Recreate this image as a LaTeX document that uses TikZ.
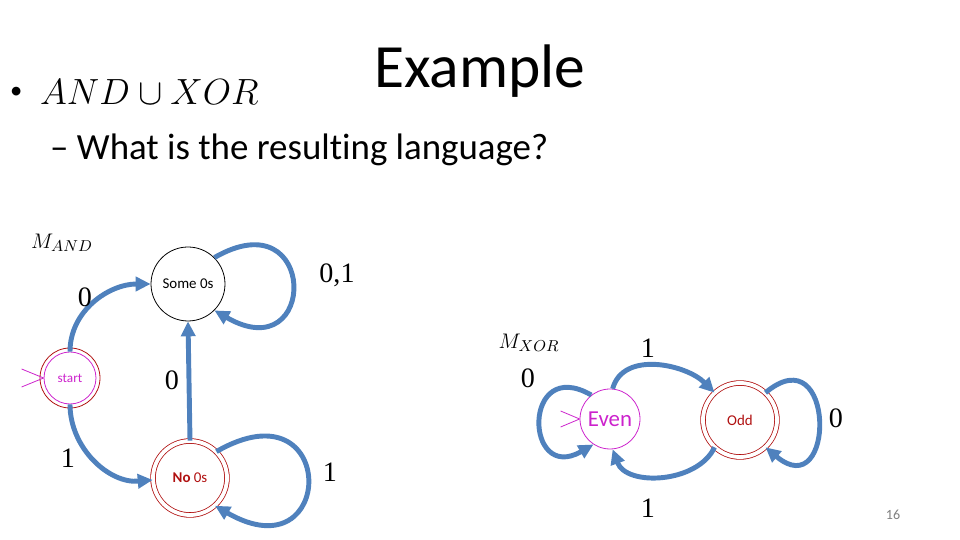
\documentclass[tikz,border=0pt]{standalone}
\usepackage{amsmath,amssymb}
\usepackage{fontspec}
\setmainfont{Carlito}[Ligatures=NoCommon]
\newfontfamily\seriffont{Liberation Serif}
\usetikzlibrary{arrows.meta, positioning, calc}
\definecolor{sblue}{HTML}{4F81BD}
\definecolor{sred}{HTML}{B01010}
\definecolor{smag}{HTML}{CC22CC}
\definecolor{spurple}{HTML}{B030C0}
\tikzset{
  >=Latex,
  st/.style={
    circle, draw=#1, line width=0.45pt, inner sep=0pt, align=center,
    font=\fontsize{8.5}{10}\selectfont
  },
  st/.default=black,
  acc/.style={
    circle, draw=sred, double=white, double distance=2.2pt,
    line width=0.45pt, inner sep=0pt, text=sred,
    font=\fontsize{8.5}{10}\selectfont
  },
  flow/.style={-{Triangle[length=8.5pt, width=8pt]}, line width=2.8pt, draw=sblue},
  initarr/.style={draw=smag, line width=0.45pt},
  lab/.style={font=\seriffont\fontsize{16}{18}\selectfont}
}

\begin{document}
\begin{tikzpicture}[x=0.02cm, y=0.02cm]
  \useasboundingbox (0,0) rectangle (960,540);
  % heading
  \node[font=\fontsize{35}{40}\selectfont] (title) at (480,469) {Example};
  \node[font=\fontsize{14}{16}\selectfont, anchor=west] (bul) at (4,447) {\textbullet};
  \node[font=\fontsize{21}{26}\selectfont, anchor=west] (expr) at (34,448) {$AND \cup XOR$};
  \node[font=\fontsize{21}{26}\selectfont, anchor=west] (quest) at (44,390)
    {-- What is the resulting language?};

  % M_AND
  \node[font=\fontsize{13}{16}\selectfont] (mand) at (62,297) {$M_{AND}$};
  \node[st, minimum size=1.48cm] (some) at (188,256) {Some 0s};
  \node[st=smag, minimum size=1.04cm, text=smag,
        font=\fontsize{7.5}{9}\selectfont] (start) at (70,162) {start};
  \draw[sred, line width=0.45pt] (start.center) circle[radius=30];
  \node[acc, minimum size=1.48cm] (none) at (190,62) {\textbf{No} 0s};
  \draw[initarr] (start.west) -- ++(-22,9) (start.west) -- ++(-22,-9);

  \draw[flow] (start.north) to[out=90, in=180] (some.west);
  \draw[flow] (start.south) to[out=-90, in=185] (none.183);
  \draw[flow] (none.north) -- (some.south);
  \draw[flow] (some.45) .. controls +(30:120) and +(-30:120) .. (some.-45);
  \draw[flow] (none.45) .. controls +(30:141) and +(-30:141) .. (none.-48);

  \node[lab] (l1) at (85,243) {0};
  \node[lab] (l2) at (68,82) {1};
  \node[lab] (l3) at (172,160) {0};
  \node[lab] (l4) at (337,265) {0,1};
  \node[lab] (l5) at (330,68) {1};

  % M_XOR
  \node[font=\fontsize{13}{16}\selectfont] (mxor) at (529,197) {$M_{XOR}$};
  \node[st=smag, minimum size=1.2cm, text=smag,
        font=\fontsize{13}{15}\selectfont] (even) at (610,121) {Even};
  \node[acc, minimum size=1.48cm] (odd) at (740,120) {Odd};
  \draw[initarr] (even.west) -- ++(-19,8) (even.west) -- ++(-19,-8);

  \draw[flow] (even.128) .. controls +(150:80) and +(210:80) .. (even.-123);
  \draw[flow] (even.85) to[out=75, in=135] (odd.133);
  \draw[flow] (odd.-133) to[out=-115, in=-70] (even.-85);
  \draw[flow] (odd.47) .. controls +(40:92) and +(-40:92) .. (odd.-47);

  \node[lab] (l6) at (648,192) {1};
  \node[lab] (l7) at (528,162) {0};
  \node[lab] (l8) at (648,32) {1};
  \node[lab] (l9) at (836,122) {0};

  \node[text=gray, font=\fontsize{8}{10}\selectfont] (page) at (893,25) {16};
\end{tikzpicture}
\end{document}
